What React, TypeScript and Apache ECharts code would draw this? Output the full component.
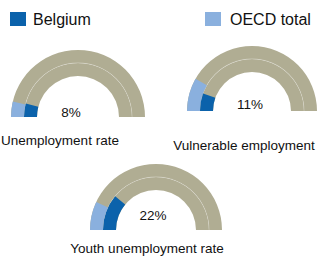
import React, { useEffect, useRef } from "react";
import * as echarts from "echarts";

const indicators = ["Unemployment rate", "Vulnerable employment", "Youth unemployment rate"];
const belgium = [8, 11, 22];
const oecdTotal = [7.4, 16.5, 14];
const legendNames = ["Belgium", "OECD total"];

const DARK = "#0B62AB";
const LIGHT = "#8AB0DE";
const GRAY = "#B0AD93";
const TEXT = "#111111";
const FONT = "'Liberation Sans', Arial, sans-serif";

// layout (pixels)
const centers: [number, number][] = [
  [78, 117],
  [252, 111],
  [156, 230],
];
const outerR = [67, 65, 66];
const ringW = 13;
const pctPos: [number, number][] = [
  [71, 112],
  [250, 104],
  [153, 215],
];
const namePos: [number, number][] = [
  [60, 140],
  [244, 145],
  [147, 248],
];

function baseGauge(center: [number, number], radius: number, width: number, color: string, z: number) {
  return {
    type: "gauge",
    center,
    radius,
    startAngle: 180,
    endAngle: 0,
    min: 0,
    max: 100,
    z,
    silent: true,
    pointer: { show: false },
    axisTick: { show: false },
    splitLine: { show: false },
    axisLabel: { show: false },
    title: { show: false },
    detail: { show: false },
    anchor: { show: false },
    axisLine: { show: true, roundCap: false, lineStyle: { width, color: [[1, color]] } },
    data: [] as any[],
  };
}

function progressGauge(center: [number, number], radius: number, value: number, color: string, z: number) {
  const g: any = baseGauge(center, radius, ringW, "rgba(0,0,0,0)", z);
  g.axisLine.show = false;
  g.progress = { show: true, width: ringW, roundCap: false, itemStyle: { color } };
  g.data = [{ value }];
  return g;
}

export default function App() {
  const ref = useRef<HTMLDivElement>(null);
  useEffect(() => {
    if (!ref.current) return;
    const chart = echarts.init(ref.current, null, { renderer: "svg" });
    const series: any[] = [];
    indicators.forEach((_, i) => {
      const c = centers[i];
      const R = outerR[i];
      series.push(baseGauge(c, R, ringW, GRAY, 1));
      series.push(baseGauge(c, R - ringW, ringW, GRAY, 1));
      series.push(baseGauge(c, R - ringW + 0.4, 0.6, "rgba(255,255,255,0.35)", 2));
      series.push(progressGauge(c, R, oecdTotal[i], LIGHT, 3));
      series.push(progressGauge(c, R - ringW, belgium[i], DARK, 3));
    });
    const graphic: any[] = [
      { type: "rect", shape: { x: 10, y: 12, width: 16, height: 14 }, style: { fill: DARK } },
      { type: "text", x: 33, y: 19.5, style: { text: legendNames[0], font: `16px ${FONT}`, fill: TEXT, verticalAlign: "middle" } },
      { type: "rect", shape: { x: 205, y: 12, width: 16, height: 14 }, style: { fill: LIGHT } },
      { type: "text", x: 230, y: 19.5, style: { text: legendNames[1], font: `16px ${FONT}`, fill: TEXT, verticalAlign: "middle" } },
    ];
    indicators.forEach((name, i) => {
      graphic.push({
        type: "text",
        x: pctPos[i][0],
        y: pctPos[i][1],
        style: { text: `${belgium[i]}%`, font: `13.5px ${FONT}`, fill: TEXT, align: "center", verticalAlign: "middle" },
      });
      graphic.push({
        type: "text",
        x: namePos[i][0],
        y: namePos[i][1],
        style: { text: name, font: `13.5px ${FONT}`, fill: TEXT, align: "center", verticalAlign: "middle" },
      });
    });
    chart.setOption({ animation: false, backgroundColor: "#ffffff", series, graphic });
    return () => chart.dispose();
  }, []);
  return <div ref={ref} style={{ position: "fixed", left: 0, top: 0, width: 321, height: 259 }} />;
}
